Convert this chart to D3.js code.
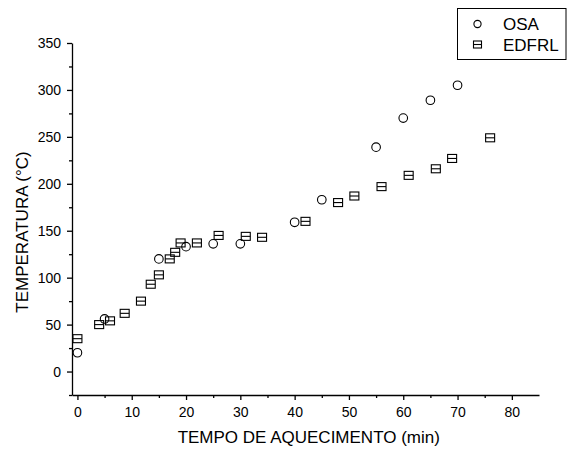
<!DOCTYPE html>
<html>
<head>
<meta charset="utf-8">
<script src="https://cdn.jsdelivr.net/npm/d3@7"></script>
<style>
  body { margin: 0; background: #fff; }
  text { font-family: Arial, "Liberation Sans", sans-serif; fill: #000; }
</style>
</head>
<body>
<div id="chart"></div>
<script>
// OSA series (circles)
var osaTime = [0, 5, 15, 20, 25, 30, 40, 45, 55, 60, 65, 70];
var osaTemp = [20, 56, 120, 133, 136, 136, 159, 183, 239, 270, 289, 305];

// EDFRL series (squares)
var edfrlTime = [0, 4, 6, 8.7, 11.7, 13.5, 15, 17, 18, 19, 22, 26, 31, 34, 42, 48, 51, 56, 61, 66, 69, 76];
var edfrlTemp = [35, 50, 54, 62, 75, 93, 103, 120, 127, 137, 137, 145, 144, 143, 160, 180, 187, 197, 209, 216, 227, 249];

var xTicks = [0, 10, 20, 30, 40, 50, 60, 70, 80];
var yTicks = [0, 50, 100, 150, 200, 250, 300, 350];

var margin = {top: 43, right: 29, bottom: 55, left: 72},
    width = 568 - margin.left - margin.right,
    height = 450 - margin.top - margin.bottom;

var x = d3.scaleLinear().domain([-1, 85]).range([0, width]);
var y = d3.scaleLinear().domain([-25, 350]).range([height, 0]);

var svg = d3.select("#chart")
  .append("svg")
    .attr("width", 568)
    .attr("height", 450)
  .append("g")
    .attr("transform", "translate(" + margin.left + "," + margin.top + ")");

// minor ticks
svg.append("g")
    .attr("transform", "translate(0," + height + ")")
    .call(d3.axisBottom(x).tickValues(d3.range(5, 85, 10)).tickSize(3).tickFormat(""))
    .call(function(g) { g.select(".domain").remove(); });
svg.append("g")
    .call(d3.axisLeft(y).tickValues(d3.range(-25, 350, 50)).tickSize(3).tickFormat(""))
    .call(function(g) { g.select(".domain").remove(); });

var xAxis = svg.append("g")
    .attr("transform", "translate(0," + height + ")")
    .call(d3.axisBottom(x).tickValues(xTicks).tickSize(5).tickSizeOuter(0).tickPadding(7));

var yAxis = svg.append("g")
    .call(d3.axisLeft(y).tickValues(yTicks).tickSize(5).tickSizeOuter(0).tickPadding(6));

svg.selectAll(".tick line, .domain").attr("stroke", "#000").attr("stroke-width", 1.3);
xAxis.selectAll("text").style("font-size", "14px");
yAxis.selectAll("text").style("font-size", "14px");

svg.append("text")
    .attr("x", x(42.6))
    .attr("y", height + 48)
    .attr("text-anchor", "middle")
    .style("font-size", "17px")
    .text("TEMPO DE AQUECIMENTO (min)");

svg.append("text")
    .attr("transform", "rotate(-90)")
    .attr("x", -189)
    .attr("y", -44)
    .attr("text-anchor", "middle")
    .style("font-size", "17px")
    .text("TEMPERATURA (\u00B0C)");

var osa = osaTime.map(function(t, i) { return {t: t, v: osaTemp[i]}; });
var edfrl = edfrlTime.map(function(t, i) { return {t: t, v: edfrlTemp[i]}; });

svg.append("g")
  .selectAll("circle")
  .data(osa)
  .enter()
  .append("circle")
    .attr("cx", function(d) { return x(d.t); })
    .attr("cy", function(d) { return y(d.v); })
    .attr("r", 4.3)
    .attr("fill", "none")
    .attr("stroke", "#000")
    .attr("stroke-width", 1.1);

function square(g, cx, cy, w, h) {
  g.append("rect")
      .attr("x", cx - w / 2).attr("y", cy - h / 2)
      .attr("width", w).attr("height", h)
      .attr("fill", "none").attr("stroke", "#000").attr("stroke-width", 1.1);
  g.append("line")
      .attr("x1", cx - w / 2).attr("x2", cx + w / 2)
      .attr("y1", cy).attr("y2", cy)
      .attr("stroke", "#000").attr("stroke-width", 1.1);
}

var sq = svg.append("g");
edfrl.forEach(function(d) { square(sq, x(d.t), y(d.v), 9, 8); });

// legend
var legend = d3.select("svg").append("g");
legend.append("rect")
    .attr("x", 457.5).attr("y", 8.5)
    .attr("width", 108.5).attr("height", 51)
    .attr("fill", "#fff").attr("stroke", "#000").attr("stroke-width", 1);
legend.append("circle")
    .attr("cx", 477.5).attr("cy", 24).attr("r", 3.6)
    .attr("fill", "none").attr("stroke", "#000").attr("stroke-width", 1.1);
square(legend, 477.5, 44.5, 8, 7);
legend.append("text").attr("x", 503).attr("y", 30).style("font-size", "17px").text("OSA");
legend.append("text").attr("x", 503).attr("y", 51).style("font-size", "17px").text("EDFRL");
</script>
</body>
</html>
